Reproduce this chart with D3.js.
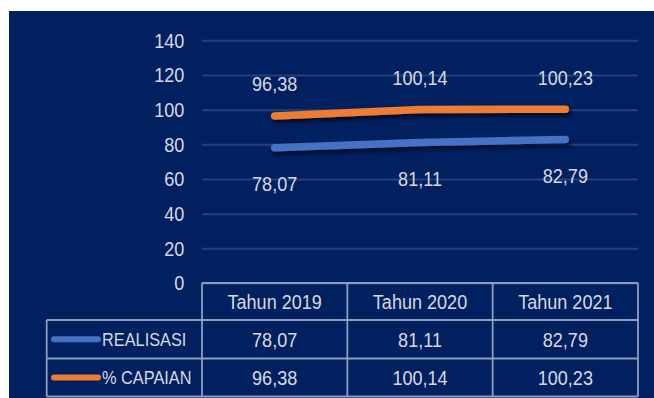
<!DOCTYPE html>
<html>
<head>
<meta charset="utf-8">
<script src="https://cdn.jsdelivr.net/npm/d3@7"></script>
<style>
  html, body { margin: 0; padding: 0; background: #ffffff; }
  svg { display: block; }
  text { font-family: "Liberation Sans", Arial, sans-serif; fill: #d6d9e0; }
</style>
</head>
<body>
<svg id="chart" width="654" height="398"></svg>
<script>
// Data
const categories = ["Tahun 2019", "Tahun 2020", "Tahun 2021"];
const seriesNames = ["REALISASI", "% CAPAIAN"];
const realisasi = [78.07, 81.11, 82.79];
const capaian = [96.38, 100.14, 100.23];
const yTicks = [0, 20, 40, 60, 80, 100, 120, 140];

const fmt = v => v.toFixed(2).replace(".", ",");
const SX = 0.86; // horizontal squeeze for a condensed look

const W = 654, H = 398;
const svg = d3.select("#chart");

// Place a condensed text label at (px, py)
function label(parent, px, py, str, size, anchor) {
  return parent.append("text")
    .attr("transform", `translate(${px},${py}) scale(${SX},1)`)
    .attr("text-anchor", anchor || "middle")
    .attr("dominant-baseline", "central")
    .style("font-size", size + "px")
    .text(str);
}

// Panel background
svg.append("rect").attr("x", 9).attr("y", 11).attr("width", W - 9).attr("height", H - 11)
  .attr("fill", "#002060");

const plotLeft = 202, plotRight = 638, plotTop = 40.3, plotBottom = 283;
const tableLeft = 46.7;
const rowH = [plotBottom, 320, 358.5, 396.5];

const x = d3.scaleBand().domain(categories).range([plotLeft, plotRight]).padding(0);
const cx = c => x(c) + x.bandwidth() / 2;
const y = d3.scaleLinear().domain([0, 140]).range([plotBottom, plotTop]);

// Shadow for the lines
const defs = svg.append("defs");
const f = defs.append("filter").attr("id", "shadow").attr("x", "-20%").attr("y", "-100%")
  .attr("width", "140%").attr("height", "400%");
f.append("feDropShadow").attr("dx", 2).attr("dy", 3).attr("stdDeviation", 2.2)
  .attr("flood-color", "#000010").attr("flood-opacity", 0.75);

// Y axis with gridlines
const yAxis = svg.append("g").attr("transform", `translate(${plotLeft},0)`)
  .call(d3.axisLeft(y).tickValues(yTicks).tickSize(-(plotRight - plotLeft)).tickPadding(20.5)
    .tickFormat(d3.format("d")));
yAxis.select(".domain").remove();
yAxis.selectAll(".tick line").attr("stroke", "#23407a").attr("stroke-width", 2);
yAxis.selectAll(".tick text").attr("fill", "#d6d9e0").style("font-size", "21px")
  .style("font-family", "'Liberation Sans', Arial, sans-serif")
  .attr("transform", `scale(${SX},1)`);

// Lines
const series = [
  { name: seriesNames[0], values: realisasi, color: "#4472C4", labelDy: 36 },
  { name: seriesNames[1], values: capaian, color: "#ED7D31", labelDy: -32 }
];
const line = d3.line().x((d, i) => cx(categories[i])).y(d => y(d));

series.forEach(s => {
  svg.append("path").datum(s.values).attr("d", line)
    .attr("fill", "none").attr("stroke", s.color).attr("stroke-width", 7.5)
    .attr("stroke-linecap", "round").attr("stroke-linejoin", "round")
    .attr("filter", "url(#shadow)");
  s.values.forEach((v, i) => label(svg, cx(categories[i]), y(v) + s.labelDy, fmt(v), 21));
});

// Data table
const border = "#8e9cbd";
const tg = svg.append("g").attr("fill", "none").attr("stroke", border).attr("stroke-width", 1.8);
tg.append("line").attr("x1", plotLeft).attr("x2", plotRight).attr("y1", rowH[0]).attr("y2", rowH[0]);
[1, 2, 3].forEach(i => tg.append("line").attr("x1", tableLeft).attr("x2", plotRight)
  .attr("y1", rowH[i]).attr("y2", rowH[i]));
categories.forEach(c => tg.append("line").attr("x1", x(c)).attr("x2", x(c))
  .attr("y1", rowH[0]).attr("y2", rowH[3]));
tg.append("line").attr("x1", plotRight).attr("x2", plotRight).attr("y1", rowH[0]).attr("y2", rowH[3]);
tg.append("line").attr("x1", tableLeft).attr("x2", tableLeft).attr("y1", rowH[1]).attr("y2", rowH[3]);

// header labels
categories.forEach(c => label(svg, cx(c), (rowH[0] + rowH[1]) / 2, c, 21));

// value rows with legend keys
series.forEach((s, r) => {
  const yc = (rowH[r + 1] + rowH[r + 2]) / 2;
  svg.append("line").attr("x1", 54).attr("x2", 98).attr("y1", yc).attr("y2", yc)
    .attr("stroke", s.color).attr("stroke-width", 6).attr("stroke-linecap", "round");
  label(svg, 102, yc, s.name, 19, "start");
  s.values.forEach((v, i) => label(svg, cx(categories[i]), yc, fmt(v), 21));
});
</script>
</body>
</html>
